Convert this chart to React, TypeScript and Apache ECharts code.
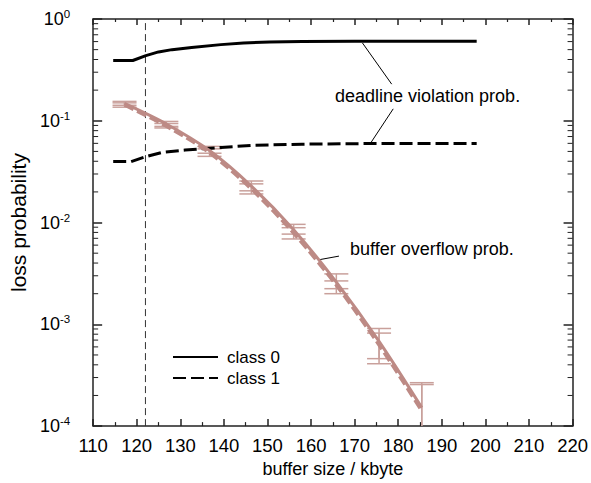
import React, { useEffect, useRef } from "react";
import * as echarts from "echarts";

// ---- data ----
const xTicks = [110, 120, 130, 140, 150, 160, 170, 180, 190, 200, 210, 220];
const cutoffX = 122;

const deadlineX0 = [114.6, 119.1, 122.1, 125.0, 128.1, 132.6, 139.3, 144.5, 150.5, 157.9, 170, 185, 198];
const deadlineY0 = [0.391, 0.391, 0.437, 0.475, 0.5, 0.526, 0.56, 0.581, 0.594, 0.602, 0.604, 0.605, 0.605];
const deadlineX1 = [114.6, 118.7, 122.1, 125.8, 131.1, 139.3, 146.7, 157.9, 175, 198];
const deadlineY1 = [0.0397, 0.0397, 0.0444, 0.0489, 0.0515, 0.0547, 0.0575, 0.0589, 0.0598, 0.0598];

const overflowX = [117.2, 126.8, 136.7, 146.3, 156.0, 165.8, 175.6, 185.4];
const overflowClass0 = [0.148, 0.093, 0.051, 0.0228, 0.0085, 0.0026, 0.00068, 0.000152];
const overflowClass1 = [0.142, 0.088, 0.048, 0.0212, 0.0078, 0.0024, 0.00062, 0.00014];
const errLow0 = [0.142, 0.088, 0.048, 0.0205, 0.0077, 0.00224, 0.00046, 0.00006];
const errHigh0 = [0.155, 0.0985, 0.056, 0.0256, 0.0096, 0.00313, 0.00091, 0.000267];
const errLow1 = [0.136, 0.085, 0.0447, 0.0191, 0.0069, 0.002, 0.00041, 0.00006];
const errHigh1 = [0.15, 0.094, 0.053, 0.024, 0.0089, 0.00267, 0.00082, 0.000256];

// annotation leader lines (data coords)
const leaderTop = [[171.8, 0.581], [178.5, 0.229]];
const leaderBottom = [[178.85, 0.131], [173.6, 0.0598]];
const leaderOverflow = [[161.7, 0.0043], [166.4, 0.00468]];

const FONT = "'Liberation Sans', Arial, Helvetica, sans-serif";
const CURVE = "#bd8a85";
const BAR = "#c9a09b";

const minorTickValues: number[][] = [];
for (let k = -4; k < 0; k++) {
  for (let m = 2; m <= 9; m++) minorTickValues.push([110, m * Math.pow(10, k)]);
}

export default function App() {
  const ref = useRef<HTMLDivElement>(null);
  useEffect(() => {
    const chart = echarts.init(ref.current!, null, { renderer: "svg" });
    const zip = (xs: number[], ys: number[]) => xs.map((x, i) => [x, ys[i]]);
    const errData = (lo: number[], hi: number[]) => overflowX.map((x, i) => [x, lo[i], hi[i]]);

    const errRender = (params: any, api: any) => {
      const x = api.value(0);
      const pLo = api.coord([x, api.value(1)]);
      const pHi = api.coord([x, api.value(2)]);
      const hw = 12;
      const st = { stroke: BAR, lineWidth: 1.5 };
      return {
        type: "group",
        children: [
          { type: "line", shape: { x1: pLo[0], y1: pLo[1], x2: pHi[0], y2: pHi[1] }, style: st },
          { type: "line", shape: { x1: pLo[0] - hw, y1: pLo[1], x2: pLo[0] + hw, y2: pLo[1] }, style: st },
          { type: "line", shape: { x1: pHi[0] - hw, y1: pHi[1], x2: pHi[0] + hw, y2: pHi[1] }, style: st },
        ],
      };
    };

    const minorRender = (params: any, api: any) => {
      const v = api.value(1);
      const pL = api.coord([110, v]);
      const pR = api.coord([220, v]);
      const st = { stroke: "#222", lineWidth: 1 };
      return {
        type: "group",
        children: [
          { type: "line", shape: { x1: pL[0], y1: pL[1], x2: pL[0] + 5, y2: pL[1] }, style: st },
          { type: "line", shape: { x1: pR[0] - 5, y1: pR[1], x2: pR[0], y2: pR[1] }, style: st },
        ],
      };
    };

    const supLabel = (v: number) => {
      const e = Math.round(Math.log10(v));
      return `{b|10}{s|${e}}`;
    };

    const axisLineStyle = { color: "#222", width: 1.5 };

    chart.setOption({
      animation: false,
      backgroundColor: "#fff",
      textStyle: { fontFamily: FONT },
      grid: { left: 86, right: 14, top: 19, bottom: 52 },
      legend: {
        data: ["class 0", "class 1"],
        orient: "vertical",
        left: 167,
        top: 343.5,
        itemWidth: 45,
        itemHeight: 14,
        itemGap: 4,
        itemStyle: { opacity: 0 },
        textStyle: { fontSize: 17, lineHeight: 14, color: "#000", fontFamily: FONT, padding: [0, 0, 0, 4] },
        selectedMode: false,
      },
      xAxis: [
        {
          type: "value",
          min: xTicks[0],
          max: xTicks[xTicks.length - 1],
          interval: 10,
          name: "buffer size / kbyte",
          nameLocation: "middle",
          nameGap: 30,
          nameTextStyle: { fontSize: 18, color: "#000", fontFamily: FONT },
          axisLine: { show: true, lineStyle: axisLineStyle },
          axisTick: { show: true, inside: true, length: 7, lineStyle: { color: "#222", width: 1.5 } },
          minorTick: { show: true, splitNumber: 2, length: 4, lineStyle: { color: "#222", width: 1.2 } },
          axisLabel: { fontSize: 18.5, color: "#000", margin: 10, fontFamily: FONT },
          splitLine: { show: false },
        },
        {
          type: "value",
          position: "top",
          min: xTicks[0],
          max: xTicks[xTicks.length - 1],
          interval: 10,
          axisLine: { show: true, lineStyle: axisLineStyle },
          axisTick: { show: true, inside: true, length: 6, lineStyle: { color: "#222", width: 1.5 } },
          minorTick: { show: true, splitNumber: 2, length: 3, lineStyle: { color: "#222", width: 1.2 } },
          axisLabel: { show: false },
          splitLine: { show: false },
        },
      ],
      yAxis: [
        {
          type: "log",
          logBase: 10,
          min: 1e-4,
          max: 1,
          splitNumber: 4,
          name: "loss probability",
          nameLocation: "middle",
          nameGap: 62,
          nameTextStyle: { fontSize: 21, color: "#000", fontFamily: FONT },
          axisLine: { show: true, lineStyle: axisLineStyle },
          axisTick: { show: true, inside: true, length: 9, lineStyle: { color: "#222", width: 1.5 } },
          axisLabel: {
            margin: 23,
            formatter: supLabel,
            rich: {
              b: { fontSize: 18, color: "#000", fontFamily: FONT },
              s: { fontSize: 11.5, color: "#000", fontFamily: FONT, padding: [0, 0, 10, 0] },
            },
          },
          splitLine: { show: false },
        },
        {
          type: "log",
          logBase: 10,
          min: 1e-4,
          max: 1,
          splitNumber: 4,
          position: "right",
          axisLine: { show: true, lineStyle: axisLineStyle },
          axisTick: { show: true, inside: true, length: 9, lineStyle: { color: "#222", width: 1.5 } },
          axisLabel: { show: false },
          splitLine: { show: false },
        },
      ],
      graphic: [
        {
          type: "text",
          left: 335,
          top: 87,
          style: { text: "deadline violation prob.", fontSize: 18, fill: "#000", fontFamily: FONT },
        },
        {
          type: "text",
          left: 350,
          top: 240,
          style: { text: "buffer overflow prob.", fontSize: 18, fill: "#000", fontFamily: FONT },
        },
      ],
      series: [
        {
          type: "custom",
          name: "minor",
          silent: true,
          renderItem: minorRender,
          data: minorTickValues,
          encode: { x: 0, y: 1 },
          clip: false,
          z: 1,
        },
        {
          type: "line",
          name: "cutoff",
          data: [[cutoffX, 1e-4], [cutoffX, 1]],
          symbol: "none",
          lineStyle: { color: "#333", width: 1, type: [7, 4] },
          silent: true,
          z: 1,
        },
        {
          type: "line",
          name: "leader1",
          data: leaderTop,
          symbol: "none",
          lineStyle: { color: "#000", width: 1 },
          silent: true,
        },
        {
          type: "line",
          name: "leader2",
          data: leaderBottom,
          symbol: "none",
          lineStyle: { color: "#000", width: 1 },
          silent: true,
        },
        {
          type: "line",
          name: "leader3",
          data: leaderOverflow,
          symbol: "none",
          lineStyle: { color: "#000", width: 1 },
          silent: true,
        },
        {
          type: "custom",
          name: "err0",
          renderItem: errRender,
          data: errData(errLow0, errHigh0),
          encode: { x: 0, y: [1, 2] },
          clip: true,
          silent: true,
          z: 2,
        },
        {
          type: "custom",
          name: "err1",
          renderItem: errRender,
          data: errData(errLow1, errHigh1),
          encode: { x: 0, y: [1, 2] },
          clip: true,
          silent: true,
          z: 2,
        },
        {
          type: "line",
          name: "class 0",
          data: zip(deadlineX0, deadlineY0),
          symbol: "none",
          lineStyle: { color: "#000", width: 3 },
          itemStyle: { color: "#000" },
          z: 3,
        },
        {
          type: "line",
          name: "class 1",
          data: zip(deadlineX1, deadlineY1),
          symbol: "none",
          lineStyle: { color: "#000", width: 3, type: [13, 5] },
          itemStyle: { color: "#000" },
          z: 3,
        },
        {
          type: "line",
          name: "overflow 0",
          data: zip(overflowX, overflowClass0),
          symbol: "none",
          smooth: 0.3,
          lineStyle: { color: CURVE, width: 3 },
          z: 3,
        },
        {
          type: "line",
          name: "overflow 1",
          data: zip(overflowX, overflowClass1),
          symbol: "none",
          smooth: 0.3,
          lineStyle: { color: CURVE, width: 3, type: [10, 4] },
          z: 3,
        },
      ],
    });
    return () => chart.dispose();
  }, []);
  return (
    <div
      ref={ref}
      style={{ position: "fixed", left: 0, top: 0, width: 591, height: 483, background: "#fff" }}
    />
  );
}
